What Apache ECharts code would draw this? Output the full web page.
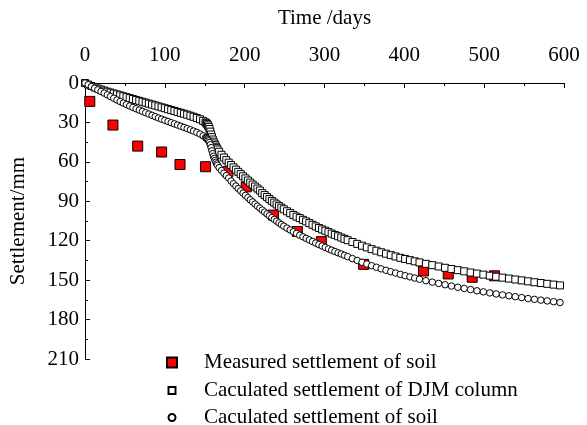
<!DOCTYPE html>
<html>
<head>
<meta charset="utf-8">
<script src="https://cdn.jsdelivr.net/npm/echarts@6/dist/echarts.min.js"></script>
<style>html,body{margin:0;padding:0;background:#fff}#chart{width:587px;height:425px}</style>
</head>
<body>
<div id="chart"></div>
<script>
// Time (days) at which the calculated curves are sampled
const days = [0,4,8,12,16,20,24,28,32,36,40,44,48,52,56,60,64,68,72,76,80,84,88,92,96,100,104,108,112,116,120,124,128,132,136,140,144,148,151,
152,153,154,155,156,157,158,159,160,161,162,163,164,165,166,
168,171,174,177,180,183,186,189,192,195,198,201,204,207,210,213,216,219,222,225,228,231,234,237,240,243,246,249,
253,257,261,265,269,273,277,281,285,289,293,297,301,305,309,313,317,321,325,329,
335,341,347,353,359,365,371,377,383,389,395,401,407,413,419,
427,435,443,451,459,467,475,483,491,499,507,515,523,531,539,547,555,563,571,579,587,595];

// Caculated settlement of DJM column (mm)
const djmColumn = [0,1.2,2.3,3.3,4.2,5.0,5.8,6.6,7.3,8.0,8.7,9.4,10.1,10.8,11.5,12.2,12.9,13.6,14.3,15.0,15.7,16.4,17.1,17.8,18.5,19.2,19.9,20.6,21.3,22.0,22.7,23.4,24.1,24.9,25.7,26.6,27.6,28.8,30.0,
30.6,31.3,32.2,33.4,35.0,37.0,39.2,41.2,43.0,44.6,46.0,47.3,48.5,49.6,50.6,
52.3,54.6,56.7,58.7,60.6,62.4,64.2,65.9,67.6,69.3,71.0,72.6,74.2,75.8,77.3,78.8,80.3,81.8,83.8,85.3,86.8,88.3,89.7,91.0,92.4,93.7,94.9,96.1,
97.6,99.0,100.4,101.7,102.8,104.1,105.3,106.6,107.9,109.1,110.3,111.4,112.4,113.5,114.6,115.6,116.6,117.6,118.6,119.6,
121.0,122.4,123.8,125.1,126.4,127.6,128.8,129.9,131.0,132.0,133.0,133.9,134.8,135.7,136.5,
137.6,138.6,139.6,140.6,141.5,142.4,143.3,144.2,145.0,145.8,146.6,147.4,148.1,148.8,149.5,150.2,150.9,151.6,152.2,152.8,153.4,154.0];

// Caculated settlement of soil (mm)
const soilCalc = [0,1.3,2.7,4.0,5.2,6.4,7.7,9.0,10.3,11.6,12.9,14.1,15.3,16.4,17.5,18.6,19.6,20.6,21.6,22.6,23.6,24.6,25.6,26.6,27.5,28.4,29.3,30.2,31.1,32.0,32.9,33.8,34.7,35.6,36.6,37.6,38.8,40.2,41.5,
42.0,42.6,43.3,44.1,45.3,47.0,49.2,51.6,53.8,55.7,57.4,58.9,60.3,61.5,62.6,
64.4,66.6,68.6,70.5,72.3,74.6,76.6,78.4,80.3,82.1,83.8,85.5,87.2,88.9,90.5,92.1,93.7,95.2,96.7,98.2,99.6,101.0,102.4,103.8,105.1,106.4,107.7,108.9,
110.4,111.8,113.2,114.5,115.8,117.0,118.2,119.4,120.6,121.8,122.9,124.0,125.1,126.2,127.2,128.2,129.2,130.1,131.1,132.1,
133.6,135.0,136.4,137.7,139.0,140.2,141.4,142.5,143.6,144.6,145.6,146.6,147.5,148.4,149.3,
150.4,151.5,152.5,153.5,154.5,155.4,156.3,157.2,158.1,158.9,159.7,160.5,161.2,161.9,162.6,163.3,164.0,164.6,165.2,165.8,166.4,167.0];

// Measured settlement of soil
const measuredDays = [6,35,66,96,119,151,179,202,236,266,296,349,424,455,485,513];
const measuredSettlement = [14,32,48,52.5,62,63.7,67.5,79,100.5,113,120.7,138,143,145.3,147.8,146.7];

const seriesNames = ['Measured settlement of soil','Caculated settlement of DJM column','Caculated settlement of soil'];

const FONT = 'Liberation Serif';
const chart = echarts.init(document.getElementById('chart'), null, {renderer:'canvas'});
const axisCommon = {
  axisLine:{show:true,lineStyle:{color:'#000',width:1}},
  axisTick:{show:true,inside:true,length:5,lineStyle:{color:'#000'}},
  minorTick:{show:true,splitNumber:2,length:3,lineStyle:{color:'#000'}},
  splitLine:{show:false},
  axisLabel:{color:'#000',fontFamily:FONT,fontSize:21},
  nameTextStyle:{color:'#000',fontFamily:FONT,fontSize:21}
};
function legendFor(i, left, top, size, pad){
  return {show:true,data:[seriesNames[i]],left:left,top:top,itemWidth:size,itemHeight:size,
    selectedMode:false,
    textStyle:{color:'#000',fontFamily:FONT,fontSize:21,padding:[0,0,0,pad]}};
}
chart.setOption({
  backgroundColor:'#fff',
  animation:false,
  grid:{left:85,right:23,top:83,bottom:66},
  legend:[
    legendFor(0,161,347,10,22),
    legendFor(1,162.5,375,7,23.5),
    legendFor(2,162.5,402,7,23.5)
  ],
  xAxis:Object.assign({},axisCommon,{
    type:'value',position:'top',min:0,max:600,interval:100,
    name:'Time /days',nameLocation:'middle',nameGap:54,
    axisLabel:Object.assign({},axisCommon.axisLabel,{margin:17})
  }),
  yAxis:Object.assign({},axisCommon,{
    type:'value',inverse:true,min:0,max:210,interval:30,
    name:'Settlement/mm',nameLocation:'middle',nameGap:56,nameRotate:90,
    axisLabel:Object.assign({},axisCommon.axisLabel,{margin:6})
  }),
  series:[
    {name:seriesNames[0],type:'scatter',symbol:'rect',symbolSize:10,
     itemStyle:{color:'#ff0000',borderColor:'#000',borderWidth:1,opacity:1},
     data:measuredDays.map((d,i)=>[d,measuredSettlement[i]])},
    {name:seriesNames[1],type:'scatter',symbol:'rect',symbolSize:7,
     itemStyle:{color:'#fff',borderColor:'#000',borderWidth:1,opacity:1},
     data:days.map((d,i)=>[d,djmColumn[i]])},
    {name:seriesNames[2],type:'scatter',symbol:'circle',symbolSize:6.5,
     itemStyle:{color:'#fff',borderColor:'#000',borderWidth:1,opacity:1},
     data:days.map((d,i)=>[d,soilCalc[i]])}
  ]
});
</script>
</body>
</html>
